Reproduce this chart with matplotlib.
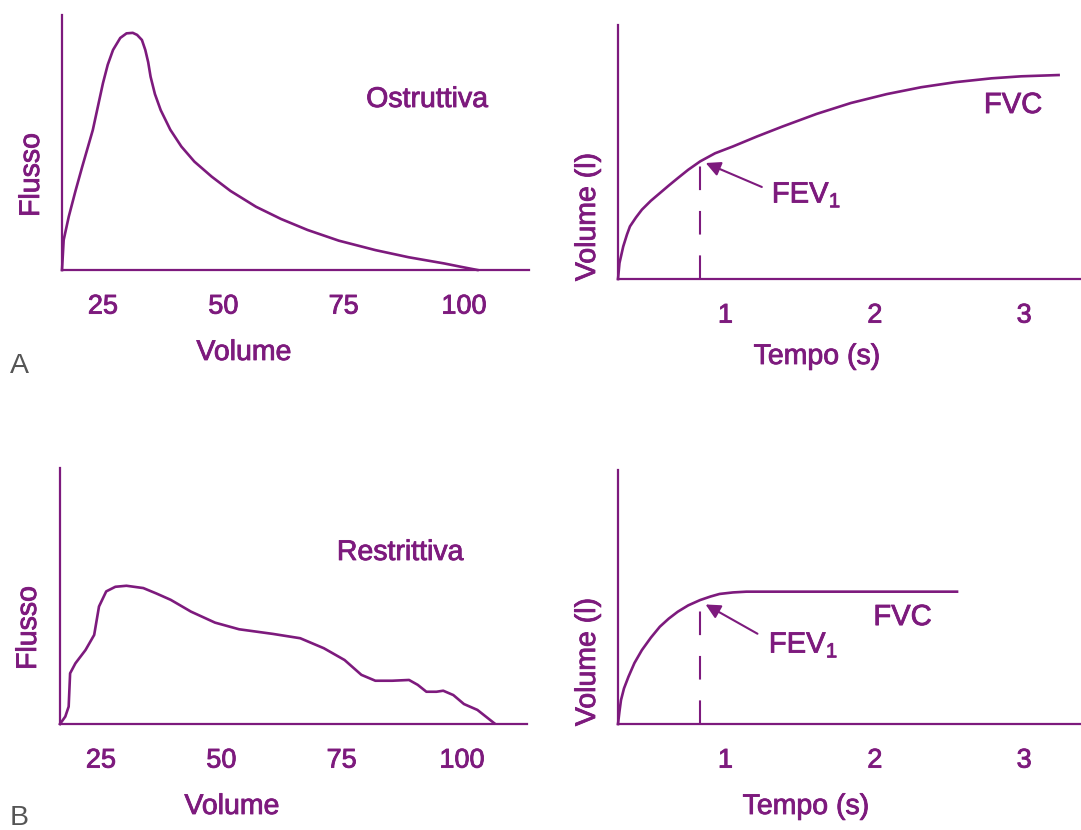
import matplotlib
matplotlib.use("Agg")
import matplotlib.pyplot as plt
import matplotlib.patheffects as pe

PURPLE = "#7d1a7d"
plt.rcParams["font.family"] = ["Liberation Sans", "DejaVu Sans"]
plt.rcParams["mathtext.fontset"] = "custom"
plt.rcParams["mathtext.rm"] = "Liberation Sans"
plt.rcParams["lines.scale_dashes"] = False
plt.rcParams["lines.solid_joinstyle"] = "round"

# --- A: ostruttiva (flow-volume) ---
ostr_vol = [16.5, 16.85, 17.9, 19.3, 20.7, 22.9, 24.0, 25.0, 26.0, 27.1, 28.6, 29.9, 31.2,
            32.1, 33.1, 33.8, 34.4, 34.9, 35.8, 37.0, 39.0, 41.3, 44.0, 47.6, 51.5, 56.8,
            62.0, 67.5, 74.0, 81.6, 88.5, 95.8, 99.5, 102.8]
ostr_flow = [0, 1.18, 2.09, 3.10, 4.05, 5.49, 6.45, 7.32, 8.05, 8.63, 9.10, 9.28, 9.30,
             9.22, 9.02, 8.63, 8.15, 7.58, 6.90, 6.27, 5.50, 4.84, 4.25, 3.66, 3.10, 2.48,
             2.00, 1.57, 1.15, 0.78, 0.50, 0.26, 0.12, 0]

# --- A: volume-time ---
ostr_t = [0.28, 0.29, 0.315, 0.34, 0.36, 0.40, 0.44, 0.50, 0.56, 0.62, 0.68, 0.75, 0.83,
          0.93, 1.05, 1.21, 1.38, 1.61, 1.84, 2.08, 2.31, 2.54, 2.78, 2.98, 3.23]
ostr_v = [0, 0.63, 1.28, 1.75, 2.07, 2.42, 2.73, 3.08, 3.38, 3.68, 3.97, 4.30, 4.63,
          4.95, 5.22, 5.61, 6.0, 6.50, 6.93, 7.28, 7.55, 7.75, 7.90, 7.98, 8.03]

# --- B: restrittiva (flow-volume) ---
restr_vol = [16.5, 17.6, 18.3, 18.6, 19.7, 21.8, 23.6, 24.6, 26.1, 28.0, 30.3, 33.8, 36.5,
             39.5, 43.7, 48.7, 53.7, 60.7, 66.4, 71.3, 75.6, 79.1, 82.0, 85.5, 89.0, 90.8,
             92.6, 94.7, 96.1, 98.2, 100.4, 103.2, 106.7]
restr_flow = [0, 0.29, 0.68, 1.98, 2.37, 2.89, 3.48, 4.59, 5.18, 5.36, 5.40, 5.31, 5.10,
              4.85, 4.39, 3.96, 3.70, 3.52, 3.35, 2.96, 2.50, 1.92, 1.69, 1.69, 1.72, 1.53,
              1.26, 1.26, 1.30, 1.13, 0.78, 0.55, 0.03]

# --- B: volume-time ---
restr_t = [0.28, 0.29, 0.30, 0.32, 0.35, 0.39, 0.44, 0.50, 0.56, 0.62, 0.68, 0.75, 0.83,
           0.90, 0.96, 1.05, 1.14, 2.55]
restr_v = [0, 0.5, 0.94, 1.4, 1.86, 2.4, 2.91, 3.4, 3.83, 4.15, 4.42, 4.67, 4.88,
           5.02, 5.12, 5.18, 5.21, 5.21]

fev1_t = 0.83
vol_ticks = [25, 50, 75, 100]
time_ticks = [1, 2, 3]

W, H = 1081, 830
fig = plt.figure(figsize=(W / 100, H / 100), dpi=100)
heavy = [pe.withStroke(linewidth=0.6, foreground=PURPLE)]


def box(l, r, t, b):
    return [l / W, 1 - b / H, (r - l) / W, (b - t) / H]


def style(ax, ticks, xlim):
    for s in ["top", "right"]:
        ax.spines[s].set_visible(False)
    for s in ["left", "bottom"]:
        ax.spines[s].set_color(PURPLE)
        ax.spines[s].set_linewidth(1.6)
    ax.set_xlim(*xlim)
    ax.set_ylim(0, 10)
    ax.set_xticks(ticks)
    ax.set_xticklabels([str(v) for v in ticks])
    ax.set_yticks([])
    ax.tick_params(axis="x", length=0, pad=17, labelsize=19.5, labelcolor=PURPLE)
    for lab in ax.get_xticklabels():
        lab.set_path_effects(heavy)
    ax.patch.set_alpha(0)


def ftext(x, y, s, **kw):
    kw.setdefault("color", PURPLE)
    kw.setdefault("fontsize", 20.5)
    kw.setdefault("path_effects", heavy)
    fig.text(x / W, 1 - y / H, s, **kw)


ax1 = fig.add_axes(box(62, 529, 15, 270))
ax2 = fig.add_axes(box(618, 1081, 25, 279))
ax3 = fig.add_axes(box(60, 527, 468, 724))
ax4 = fig.add_axes(box(618, 1081, 470, 724))

for ax in (ax1, ax3):
    style(ax, vol_ticks, (16.5, 113.5))
for ax in (ax2, ax4):
    style(ax, time_ticks, (0.28, 3.38))

ax1.plot(ostr_vol, ostr_flow, color=PURPLE, lw=1.9, clip_on=False)
ax3.plot(restr_vol, restr_flow, color=PURPLE, lw=1.9, clip_on=False)
ax2.plot(ostr_t, ostr_v, color=PURPLE, lw=1.9, clip_on=False)
ax4.plot(restr_t, restr_v, color=PURPLE, lw=1.9, clip_on=False)

# dashed FEV1 markers
ax2.plot([fev1_t, fev1_t], [0, 4.63], color=PURPLE, lw=1.5, dashes=(17, 15))
ax4.plot([fev1_t, fev1_t], [0, 4.88], color=PURPLE, lw=1.5, dashes=(17, 15))

arrow = dict(arrowstyle="-|>", color=PURPLE, lw=1.5, mutation_scale=22)
ax2.annotate("", xy=(0.85, 4.61), xytext=(1.26, 3.58), arrowprops=arrow)
ax4.annotate("", xy=(0.85, 4.76), xytext=(1.23, 3.50), arrowprops=arrow)
for ax, x, y in ((ax2, 1.31, 3.31), (ax4, 1.29, 3.11)):
    ax.text(x, y, r"FEV$_\mathregular{1}$", color=PURPLE, fontsize=21, va="center",
            path_effects=heavy)
for ax, x, y in ((ax2, 2.73, 6.85), (ax4, 1.99, 4.21)):
    ax.text(x, y, "FVC", color=PURPLE, fontsize=21, va="center", path_effects=heavy)

# labels
ftext(427, 100, "Ostruttiva", ha="center", va="center")
ftext(400, 553, "Restrittiva", ha="center", va="center")
ftext(32, 175, "Flusso", ha="center", va="center", rotation=90)
ftext(29, 628, "Flusso", ha="center", va="center", rotation=90)
ftext(244, 353, "Volume", ha="center", va="center")
ftext(232, 807, "Volume", ha="center", va="center")
ftext(588, 217, "Volume (l)", ha="center", va="center", rotation=90)
ftext(588, 662, "Volume (l)", ha="center", va="center", rotation=90)
ftext(817, 357, "Tempo (s)", ha="center", va="center")
ftext(806, 807, "Tempo (s)", ha="center", va="center")
ftext(10, 366, "A", ha="left", va="center", color="#555555", path_effects=[])
ftext(10, 818, "B", ha="left", va="center", color="#555555", path_effects=[])

fig.savefig("out.png", dpi=100)
